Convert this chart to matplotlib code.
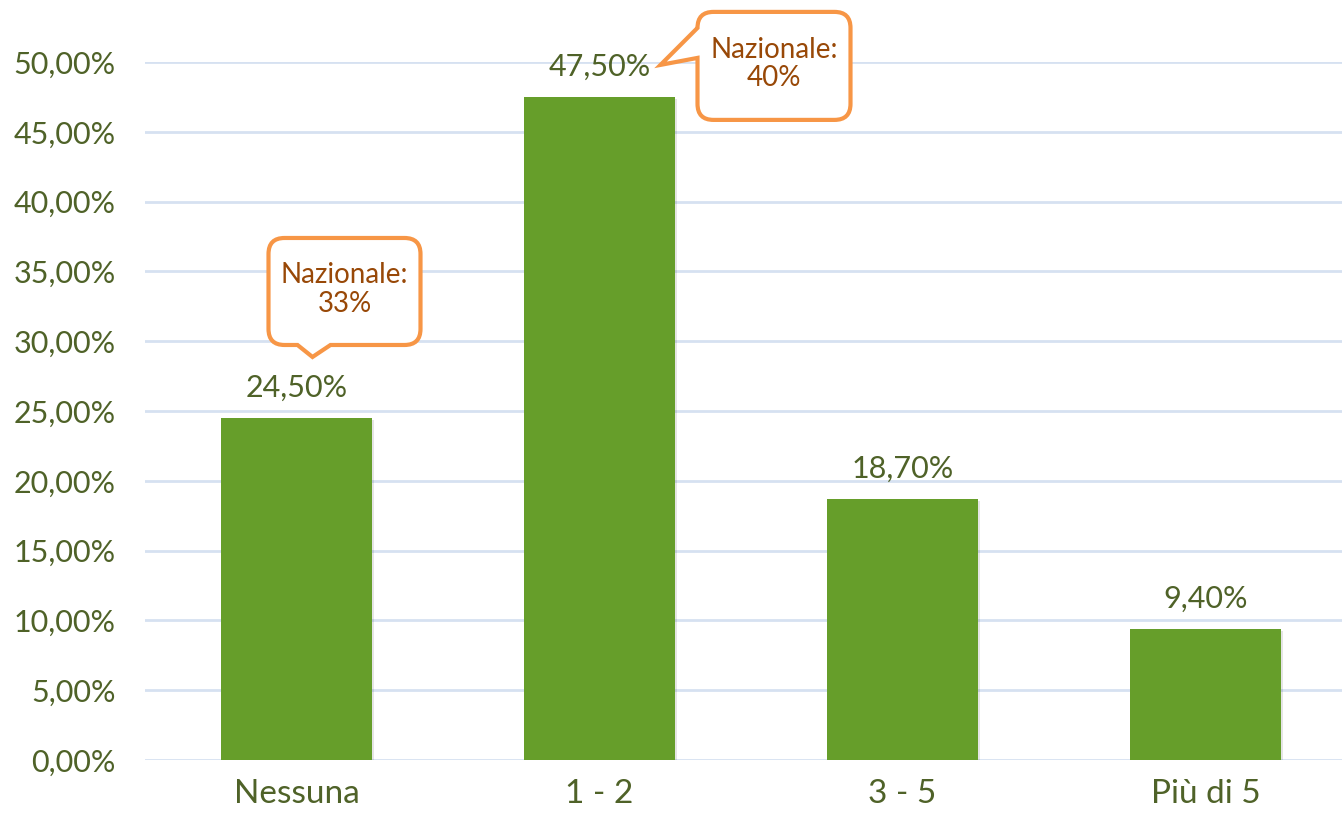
import matplotlib.pyplot as plt
import matplotlib.patheffects as pe
from matplotlib.path import Path
from matplotlib.patches import PathPatch
from matplotlib.transforms import Affine2D, ScaledTranslation

plt.rcParams['font.family'] = ['Lato', 'DejaVu Sans']

categories = ["Nessuna", "1 - 2", "3 - 5", "Più di 5"]
values = [24.5, 47.5, 18.7, 9.4]
yticks = [0, 5, 10, 15, 20, 25, 30, 35, 40, 45, 50]
# callouts: bar index, text
callout_bar = [0, 1]
callout_text = ["Nazionale:\n33%", "Nazionale:\n40%"]

green = "#669E2A"
olive = "#4F6228"
orange = "#F79646"
brown = "#984807"
grid = "#D6E1F1"

fig = plt.figure(figsize=(13.42, 8.15), dpi=100)
ax = fig.add_axes([145 / 1342, 55 / 815, 1212 / 1342, 698 / 815])

x = range(len(categories))
bars = ax.bar(x, values, width=0.5, color=green, zorder=3)
for b in bars:
    b.set_path_effects([pe.SimplePatchShadow(offset=(1.5, -1.5), shadow_rgbFace="#000000", alpha=0.1), pe.Normal()])

ax.set_xlim(-0.5, len(categories) - 0.5)
ax.set_ylim(0, 50)
ax.set_yticks(yticks)
ax.set_yticklabels([("%.2f" % v).replace(".", ",") + "%" for v in yticks])
ax.set_xticks(list(x))
ax.set_xticklabels(categories)
ax.tick_params(axis="both", length=0, labelcolor=olive)
ax.tick_params(axis="y", pad=21, labelsize=22)
ax.tick_params(axis="x", pad=14, labelsize=24)
ax.grid(axis="y", color=grid, linewidth=2, zorder=0)
ax.set_axisbelow(True)
for s in ax.spines.values():
    s.set_visible(False)

for i, v in enumerate(values):
    lab = ("%.2f" % v).replace(".", ",") + "%"
    ax.annotate(lab, (i, v), xytext=(0, 30), textcoords="offset pixels",
                ha="center", va="center", fontsize=22, color=olive)


def callout_path(x0, y0, x1, y1, r, side, a, b, tip):
    verts = [(x0 + r, y0)]
    codes = [Path.MOVETO]
    if side == "bottom":
        verts += [(a, y0), tip, (b, y0)]
        codes += [Path.LINETO] * 3
    verts += [(x1 - r, y0), (x1, y0), (x1, y0 + r),
              (x1, y1 - r), (x1, y1), (x1 - r, y1),
              (x0 + r, y1), (x0, y1), (x0, y1 - r)]
    codes += [Path.LINETO, Path.CURVE3, Path.CURVE3] * 3
    if side == "left":
        verts += [(x0, b), tip, (x0, a)]
        codes += [Path.LINETO] * 3
    verts += [(x0, y0 + r), (x0, y0), (x0 + r, y0), (x0 + r, y0)]
    codes += [Path.LINETO, Path.CURVE3, Path.CURVE3, Path.CLOSEPOLY]
    return Path(verts, codes)


# shapes in pixels relative to top of the bar
shapes = [
    dict(rect=(-28, 73, 124, 180), side="bottom", a=1, b=34, tip=(16, 61)),
    dict(rect=(98, -23, 251, 85), side="left", a=39, b=69, tip=(61, 32)),
]

for k, i in enumerate(callout_bar):
    sh = shapes[k]
    x0, y0, x1, y1 = sh["rect"]
    tr = Affine2D() + ScaledTranslation(i, values[i], ax.transData)
    p = callout_path(x0, y0, x1, y1, 16, sh["side"], sh["a"], sh["b"], sh["tip"])
    ax.add_patch(PathPatch(p, facecolor="white", edgecolor=orange, linewidth=3,
                           transform=tr, clip_on=False, zorder=5))
    ax.text((x0 + x1) / 2, (y0 + y1) / 2 + 2, callout_text[k], transform=tr,
            ha="center", va="center", fontsize=20, color=brown,
            linespacing=1.1, zorder=6, clip_on=False)

plt.savefig("out.png", dpi=100)
